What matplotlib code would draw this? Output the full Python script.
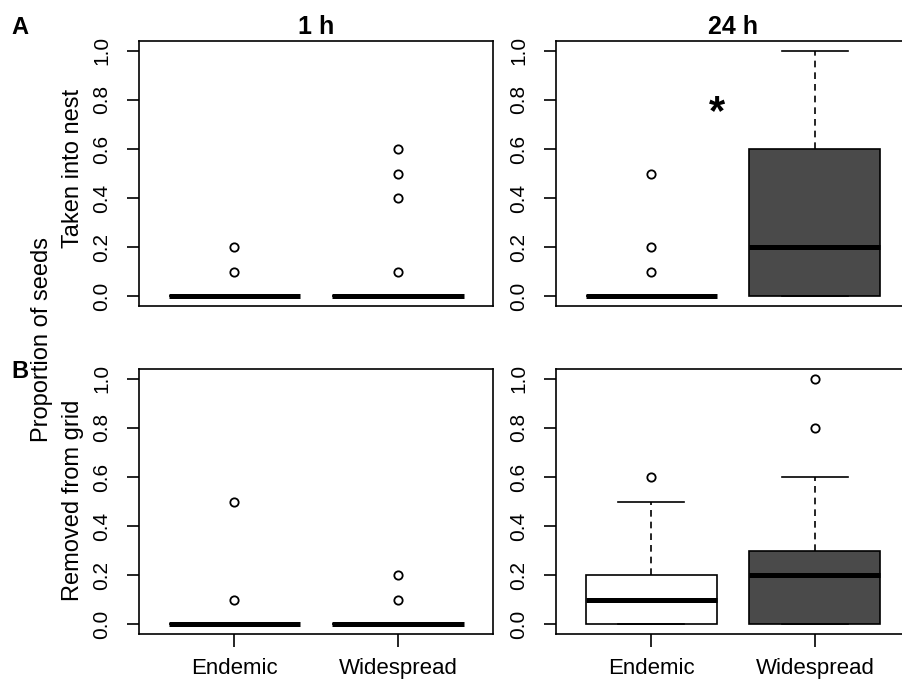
import matplotlib
matplotlib.use("Agg")
import matplotlib.pyplot as plt

plt.rcParams['font.family'] = ['Liberation Sans', 'DejaVu Sans']

# groups and panel labels
groups = ["Endemic", "Widespread"]
times = ["1 h", "24 h"]
rows = ["Taken into nest", "Removed from grid"]
yticks = [0.0, 0.2, 0.4, 0.6, 0.8, 1.0]

# box stats: q1, median, q3, whisker low, whisker high, outliers
# taken into nest, 1 h
taken_1h_q1 = [0.0, 0.0]
taken_1h_med = [0.0, 0.0]
taken_1h_q3 = [0.0, 0.0]
taken_1h_lo = [0.0, 0.0]
taken_1h_hi = [0.0, 0.0]
taken_1h_out = [[0.1, 0.2], [0.1, 0.4, 0.5, 0.6]]

# taken into nest, 24 h
taken_24h_q1 = [0.0, 0.0]
taken_24h_med = [0.0, 0.2]
taken_24h_q3 = [0.0, 0.6]
taken_24h_lo = [0.0, 0.0]
taken_24h_hi = [0.0, 1.0]
taken_24h_out = [[0.1, 0.2, 0.5], []]

# removed from grid, 1 h
removed_1h_q1 = [0.0, 0.0]
removed_1h_med = [0.0, 0.0]
removed_1h_q3 = [0.0, 0.0]
removed_1h_lo = [0.0, 0.0]
removed_1h_hi = [0.0, 0.0]
removed_1h_out = [[0.1, 0.5], [0.1, 0.2]]

# removed from grid, 24 h
removed_24h_q1 = [0.0, 0.0]
removed_24h_med = [0.1, 0.2]
removed_24h_q3 = [0.2, 0.3]
removed_24h_lo = [0.0, 0.0]
removed_24h_hi = [0.5, 0.6]
removed_24h_out = [[0.6], [0.8, 1.0]]

fills = ["white", "#4a4a4a"]


def make_stats(q1, med, q3, lo, hi, out):
    stats = []
    for i in range(len(groups)):
        stats.append(dict(q1=q1[i], med=med[i], q3=q3[i],
                          whislo=lo[i], whishi=hi[i], fliers=out[i]))
    return stats


panels = [
    [make_stats(taken_1h_q1, taken_1h_med, taken_1h_q3, taken_1h_lo, taken_1h_hi, taken_1h_out),
     make_stats(taken_24h_q1, taken_24h_med, taken_24h_q3, taken_24h_lo, taken_24h_hi, taken_24h_out)],
    [make_stats(removed_1h_q1, removed_1h_med, removed_1h_q3, removed_1h_lo, removed_1h_hi, removed_1h_out),
     make_stats(removed_24h_q1, removed_24h_med, removed_24h_q3, removed_24h_lo, removed_24h_hi, removed_24h_out)],
]

fig = plt.figure(figsize=(9.02, 6.84), dpi=100)

W, H = 902.0, 684.0
lefts = [139, 556]
tops = [41, 369]
aw, ah = 354, 265

for r in range(2):
    for c in range(2):
        ax = fig.add_axes([lefts[c] / W, 1 - (tops[r] + ah) / H, aw / W, ah / H])
        res = ax.bxp(panels[r][c], positions=[1, 2], widths=0.8, capwidths=0.4,
                     patch_artist=True, showfliers=True,
                     boxprops=dict(edgecolor="black", linewidth=1.2),
                     medianprops=dict(color="black", linewidth=3.6, solid_capstyle="butt"),
                     whiskerprops=dict(color="black", linewidth=1.2, linestyle=(0, (4, 3))),
                     capprops=dict(color="black", linewidth=1.2),
                     flierprops=dict(marker="o", markerfacecolor="none",
                                     markeredgecolor="black", markersize=6, markeredgewidth=1.3))
        for patch, fc in zip(res["boxes"], fills):
            patch.set_facecolor(fc)
        ax.set_xlim(0.42, 2.58)
        ax.set_ylim(-0.04, 1.04)
        ax.set_yticks(yticks)
        ax.set_yticklabels(["%.1f" % v for v in yticks], rotation=90, va="center")
        ax.tick_params(axis="y", length=9, width=1.2, pad=11, labelsize=15)
        if r == 1:
            ax.set_xticks([1, 2])
            ax.set_xticklabels(groups)
            ax.tick_params(axis="x", length=9, width=1.2, pad=8, labelsize=16)
        else:
            ax.set_xticks([])
            ax.set_title(times[c], fontsize=18, fontweight="bold", pad=5)
        for s in ax.spines.values():
            s.set_linewidth(1.2)
        if r == 0 and c == 1:
            ax.text(1.40, 0.745, "*", fontsize=30, fontweight="bold", ha="center", va="center")

fig.text(73 / W, 1 - 168 / H, rows[0], rotation=90, ha="center", va="center", fontsize=17)
fig.text(73 / W, 1 - 500 / H, rows[1], rotation=90, ha="center", va="center", fontsize=17)
fig.text(42 / W, 1 - 340 / H, "Proportion of seeds", rotation=90, ha="center", va="center", fontsize=17)
fig.text(20 / W, 1 - 28 / H, "A", ha="center", va="center", fontsize=17, fontweight="bold")
fig.text(20 / W, 1 - 372 / H, "B", ha="center", va="center", fontsize=17, fontweight="bold")

fig.savefig("out.png", dpi=100)
